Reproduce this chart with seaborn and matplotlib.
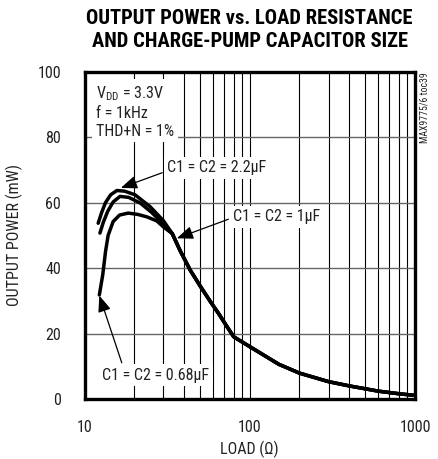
import matplotlib
matplotlib.use("Agg")
import numpy as np
import pandas as pd
import matplotlib.pyplot as plt
import seaborn as sns
from matplotlib import font_manager
from matplotlib.ticker import FixedLocator, NullFormatter, FixedFormatter

# Output power (mW) against load resistance (ohms) for three charge-pump capacitor sizes
load_2u2 = [12.1, 12.7, 13.4, 14.4, 15.7, 17.5, 20.2, 24.9, 30.0]
power_2u2 = [53.7, 57.0, 60.0, 62.4, 63.7, 63.5, 62.4, 58.8, 54.5]

load_1u = [12.4, 13.0, 13.8, 14.9, 16.4, 18.5, 21.7, 25.5, 30.0]
power_1u = [50.7, 54.0, 57.3, 60.2, 61.9, 61.6, 59.9, 57.0, 53.5]

load_0u68 = [12.3, 12.9, 13.4, 13.9, 14.9, 16.3, 18.4, 21.0, 24.0, 27.4, 30.0]
power_0u68 = [31.8, 38.0, 45.0, 50.0, 54.2, 56.2, 56.8, 56.4, 55.6, 54.4, 52.6]

# above roughly 34 ohms the three curves coincide
load_common = [34, 38, 43.6, 50, 57.7, 65, 72, 80, 100, 150, 200, 300, 400, 600, 800, 1000]
power_common = [50.5, 45.2, 39.4, 34.6, 29.8, 26.0, 22.5, 19.0, 16.0, 10.6, 7.9, 5.3, 4.0, 2.4, 1.6, 1.1]

series_names = ["C1 = C2 = 2.2µF", "C1 = C2 = 1µF", "C1 = C2 = 0.68µF"]

x_ticks = [10, 100, 1000]
x_ticklabels = ["10", "100", "1000"]
y_ticks = [0, 20, 40, 60, 80, 100]
y_ticklabels = ["0", "20", "40", "60", "80", "100"]


def first_font(candidates):
    names = {f.name for f in font_manager.fontManager.ttflist}
    for c in candidates:
        if c in names:
            return c
    return "DejaVu Sans"


sns.set_theme(style="white")
narrow = first_font(["Liberation Sans Narrow", "Roboto Condensed", "Open Sans Condensed",
                     "DejaVu Sans Condensed", "Liberation Sans"])
plt.rcParams["font.family"] = [narrow, "DejaVu Sans"]
plt.rcParams["mathtext.fontset"] = "custom"
plt.rcParams["mathtext.rm"] = narrow

frames = []
for name, xs, ys in [(series_names[0], load_2u2, power_2u2),
                     (series_names[1], load_1u, power_1u),
                     (series_names[2], load_0u68, power_0u68)]:
    frames.append(pd.DataFrame({"load": list(xs) + load_common,
                                "power": list(ys) + power_common,
                                "cap": name}))
df = pd.concat(frames, ignore_index=True)

fig = plt.figure(figsize=(4.38, 4.59), dpi=100)
ax = fig.add_axes([84.5 / 438, 1 - 399 / 459, 330.5 / 438, 327.3 / 459])

ax.set_xscale("log")
ax.set_xlim(10, 1000)
ax.set_ylim(0, 100)

# grid: every 1-2-...-9 decade step vertically, every 20 mW horizontally
minor = [m * d for d in (10, 100) for m in range(2, 10)]
for v in minor + [100]:
    ax.axvline(v, color="black", lw=0.8, zorder=1)
for h in [20, 40, 60, 80]:
    ax.axhline(h, color="0.4", lw=1.0, zorder=1)

sns.lineplot(data=df, x="load", y="power", hue="cap", units="cap", estimator=None,
             sort=False, palette=["black"] * 3, lw=2.5, legend=False, ax=ax, zorder=3)

ax.xaxis.set_major_locator(FixedLocator(x_ticks))
ax.xaxis.set_major_formatter(FixedFormatter(x_ticklabels))
ax.xaxis.set_minor_locator(FixedLocator(minor))
ax.xaxis.set_minor_formatter(NullFormatter())
ax.yaxis.set_major_locator(FixedLocator(y_ticks))
ax.yaxis.set_major_formatter(FixedFormatter(y_ticklabels))
ax.tick_params(which="both", length=0, labelsize=11.5, colors="#222222")
ax.tick_params(axis="y", pad=17)
ax.tick_params(axis="x", pad=15)
for sp in ax.spines.values():
    sp.set_visible(True)
    sp.set_color("black")
    sp.set_linewidth(2.4)
    sp.set_zorder(5)

ax.set_xlabel("LOAD (Ω)", fontsize=11.5, color="#222222", labelpad=4)
ax.set_ylabel("OUTPUT POWER (mW)", fontsize=11.5, color="#222222", labelpad=10)

white = dict(facecolor="white", edgecolor="none", pad=2.5)
ax.text(11.74, 87.8, "V$_{\\mathregular{DD}}$ = 3.3V\nf = 1kHz\nTHD+N = 1%",
        ha="left", va="center", fontsize=11.5, linespacing=1.25, color="#222222",
        bbox=white, zorder=4)

arrow = dict(arrowstyle="-|>,head_length=0.55,head_width=0.22", color="black",
             lw=0.9, shrinkA=1, shrinkB=0, mutation_scale=18)
ax.annotate(series_names[0], xy=(16.6, 64.5), xytext=(31.6, 70.6),
            ha="left", va="center", fontsize=11.5, color="#222222", bbox=white,
            arrowprops=dict(arrow, relpos=(0.0, 0.3)), zorder=4)
ax.annotate(series_names[1], xy=(36.2, 49.1), xytext=(79.4, 55.7),
            ha="left", va="center", fontsize=11.5, color="#222222", bbox=white,
            arrowprops=dict(arrow, relpos=(0.0, 0.45)), zorder=4)
ax.annotate(series_names[2], xy=(12.3, 31.6), xytext=(12.76, 7.3),
            ha="left", va="center", fontsize=11.5, color="#222222", bbox=white,
            arrowprops=dict(arrow, relpos=(0.2, 1.0)), zorder=4)

fig.text(424 / 438, 1 - 72 / 459, "MAX9775/6 toc39", rotation=90, ha="center", va="top",
         fontsize=7, color="#222222")

title = fig.text(249.5 / 438, 1 - 30 / 459,
                 "OUTPUT POWER vs. LOAD RESISTANCE\nAND CHARGE-PUMP CAPACITOR SIZE",
                 ha="center", va="center", fontsize=14, fontweight="bold",
                 linespacing=1.3, color="black")
# fit the title block to its intended width
renderer = fig.canvas.get_renderer()
w = title.get_window_extent(renderer).width
title.set_fontsize(14 * 328 / w)

fig.savefig("out.png", dpi=100)
